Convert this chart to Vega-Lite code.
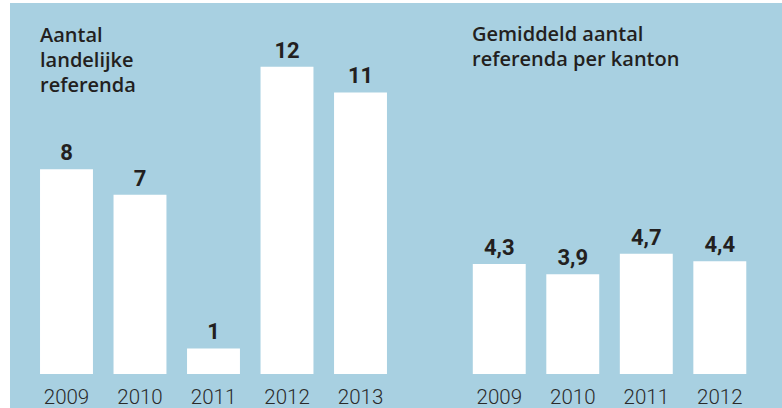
{
  "$schema": "https://vega.github.io/schema/vega-lite/v6.json",
  "background": "#ffffff",
  "padding": {"left": 10, "top": 3, "right": 0, "bottom": 0},
  "spacing": 0,
  "config": {
    "view": {"fill": "#a8d0e1", "stroke": null},
    "locale": {"number": {"decimal": ",", "thousands": ".", "grouping": [3], "currency": ["€", ""]}},
    "font": "Roboto",
    "axis": {
      "domain": false, "ticks": false, "tickSize": 0, "grid": false, "title": null,
      "labelAngle": 0, "labelFont": "Roboto", "labelFontSize": 20.5, "labelFontWeight": 300,
      "labelColor": "#2a2a2a", "labelBaseline": "alphabetic", "labelPadding": 0, "offset": -5
    },
    "title": {
      "anchor": "start", "font": "Open Sans", "fontSize": 20, "fontWeight": 600,
      "color": "#231f20", "lineHeight": 25, "baseline": "alphabetic"
    }
  },
  "hconcat": [
    {
      "width": 420,
      "height": 405,
      "title": {"text": ["Aantal", "landelijke", "referenda"], "dx": 30, "offset": -93},
      "data": {"values": [
        {"jaar": "2009", "aantal": 8},
        {"jaar": "2010", "aantal": 7},
        {"jaar": "2011", "aantal": 1},
        {"jaar": "2012", "aantal": 12},
        {"jaar": "2013", "aantal": 11}
      ]},
      "encoding": {
        "x": {"field": "jaar", "type": "ordinal", "sort": null,
              "scale": {"paddingInner": 0.28, "paddingOuter": 0.497, "align": 0.411}},
        "y": {"field": "aantal", "type": "quantitative", "axis": null,
              "scale": {"domain": [-1.328, 14.492], "nice": false, "zero": false}}
      },
      "layer": [
        {"mark": {"type": "bar", "color": "#ffffff"}, "encoding": {"y2": {"datum": 0}}},
        {"mark": {"type": "text", "font": "Roboto", "fontSize": 22, "fontWeight": "bold", "color": "#231f20", "baseline": "alphabetic", "dy": -9},
         "encoding": {"text": {"field": "aantal", "type": "quantitative", "format": "d"}}}
      ]
    },
    {
      "width": 352,
      "height": 405,
      "title": {"text": ["Gemiddeld aantal", "referenda per kanton"], "dx": 42, "offset": -67},
      "data": {"values": [
        {"jaar": "2009", "gemiddeld": 4.3},
        {"jaar": "2010", "gemiddeld": 3.9},
        {"jaar": "2011", "gemiddeld": 4.7},
        {"jaar": "2012", "gemiddeld": 4.4}
      ]},
      "encoding": {
        "x": {"field": "jaar", "type": "ordinal", "sort": null,
              "scale": {"paddingInner": 0.28, "paddingOuter": 0.534, "align": 0.545}},
        "y": {"field": "gemiddeld", "type": "quantitative", "axis": null,
              "scale": {"domain": [-1.328, 14.492], "nice": false, "zero": false}}
      },
      "layer": [
        {"mark": {"type": "bar", "color": "#ffffff"}, "encoding": {"y2": {"datum": 0}}},
        {"mark": {"type": "text", "font": "Roboto", "fontSize": 22, "fontWeight": "bold", "color": "#231f20", "baseline": "alphabetic", "dy": -9},
         "encoding": {"text": {"field": "gemiddeld", "type": "quantitative", "format": ".1f"}}}
      ]
    }
  ]
}
